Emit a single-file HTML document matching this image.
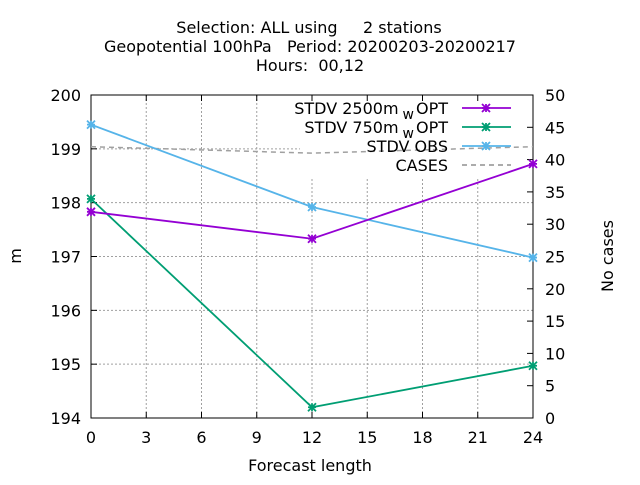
<!DOCTYPE html>
<html><head><meta charset="utf-8"><style>
body{margin:0;background:#fff}
text{font-family:"DejaVu Sans","Liberation Sans",sans-serif;font-size:16px;fill:#000}
</style></head><body>
<svg id="c" width="640" height="480" xmlns="http://www.w3.org/2000/svg">
<g>
<text x="309" y="33" text-anchor="middle" xml:space="preserve">Selection: ALL using     2 stations</text>
<text x="310" y="52" text-anchor="middle" xml:space="preserve">Geopotential 100hPa   Period: 20200203-20200217</text>
<text x="310" y="71" text-anchor="middle" xml:space="preserve">Hours:  00,12</text>
</g>
<g id="grid"></g>
<rect x="300" y="95" width="233" height="83" fill="#fff"/>
<g id="axes"></g>
<g id="series"></g>
<g id="legend"></g>
<text x="21" y="256" text-anchor="middle" transform="rotate(-90 21 256)">m</text>
<text x="613" y="256" text-anchor="middle" transform="rotate(-90 613 256)">No cases</text>
<text x="310" y="471" text-anchor="middle">Forecast length</text>
</svg>
<script>
const xTicks=[0,3,6,9,12,15,18,21,24];
const yTicks=[194,195,196,197,198,199,200];
const y2Ticks=[0,5,10,15,20,25,30,35,40,45,50];
const leads=[0,12,24];
const stdv2500=[197.83,197.33,198.72];
const stdv750=[198.07,194.2,194.97];
const stdvObs=[199.45,197.92,196.98];
const cases=[42,41,42];
const L=91,R=533,T=95,B=418;
const sx=v=>L+(v-0)/24*(R-L);
const sy=v=>B-(v-194)/6*(B-T);
const sy2=v=>B-v/50*(B-T);
const NS='http://www.w3.org/2000/svg';
function mk(tag,attrs,parent){const e=document.createElementNS(NS,tag);for(const k in attrs)e.setAttribute(k,attrs[k]);parent.appendChild(e);return e;}
const grid=document.getElementById('grid'),axes=document.getElementById('axes'),ser=document.getElementById('series'),leg=document.getElementById('legend');
xTicks.forEach(t=>{const x=sx(t);
 if(t>0&&t<24){const g=mk('line',{x1:x,x2:x,y1:T,y2:B,stroke:'#a0a0a0','stroke-width':1,'stroke-dasharray':'2,2'},grid);
 }
 mk('line',{x1:x,x2:x,y1:B,y2:B-6,stroke:'#000'},axes);mk('line',{x1:x,x2:x,y1:T,y2:T+6,stroke:'#000'},axes);
 const tx=mk('text',{x:x,y:B+25,'text-anchor':'middle'},axes);tx.textContent=t;
 });
yTicks.forEach(t=>{const y=sy(t);
 if(t>194&&t<200){const g=mk('line',{x1:L,x2:R,y1:y,y2:y,stroke:'#a0a0a0','stroke-width':1,'stroke-dasharray':'2,2'},grid);
 }
 mk('line',{x1:L,x2:L+6,y1:y,y2:y,stroke:'#000'},axes);
 const tx=mk('text',{x:L-10,y:y+6,'text-anchor':'end'},axes);tx.textContent=t;
 });
y2Ticks.forEach(t=>{const y=sy2(t);
 mk('line',{x1:R,x2:R-6,y1:y,y2:y,stroke:'#000'},axes);
 const tx=mk('text',{x:R+12,y:y+6,'text-anchor':'start'},axes);tx.textContent=t;
 });
const fr=mk('rect',{x:L,y:T,width:R-L,height:B-T,fill:'none',stroke:'#000','stroke-width':1},axes);

function star(x,y,c,p){const d=`M${x-4},${y-4}L${x+4},${y+4}M${x-4},${y+4}L${x+4},${y-4}M${x-4},${y}L${x+4},${y}M${x},${y-4}L${x},${y+4}`;return mk('path',{d:d,stroke:c,'stroke-width':1.8,fill:'none'},p);}
const cp=mk('polyline',{points:leads.map((l,i)=>sx(l)+','+sy2(cases[i])).join(' '),fill:'none',stroke:'#a0a0a0','stroke-width':1.5,'stroke-dasharray':'5,4'},ser);

const S=[['STDV OBS',stdvObs,'#56b4e9','stdv-obs'],['STDV 750m',stdv750,'#009e73','stdv-750m'],['STDV 2500m',stdv2500,'#9400d3','stdv-2500m']];
S.forEach(s=>{const pl=mk('polyline',{points:leads.map((l,i)=>sx(l)+','+sy(s[1][i])).join(' '),fill:'none',stroke:s[2],'stroke-width':1.8},ser);
 
 leads.forEach((l,i)=>{const m=star(sx(l),sy(s[1][i]),s[2],ser);});});
const LE=[['STDV 2500m','#9400d3',false,true],['STDV 750m','#009e73',false,true],['STDV OBS','#56b4e9',false,false],['CASES','#a0a0a0',true,false]];
LE.forEach((e,i)=>{const y=108+i*19;
 const g=mk('g',{},leg);
 const t=mk('text',{x:448,y:y+6,'text-anchor':'end'},g);
 if(e[3]){t.innerHTML=e[0]+'<tspan dx="4" dy="5" font-size="14">w</tspan><tspan dx="2" dy="-5">OPT</tspan>';}else t.textContent=e[0];
 mk('line',{x1:462,x2:511,y1:y,y2:y,stroke:e[1],'stroke-width':1.8,'stroke-dasharray':e[2]?'5,4':'none'},g);
 if(!e[2])star(486,y,e[1],g);});
</script>
</body></html>
